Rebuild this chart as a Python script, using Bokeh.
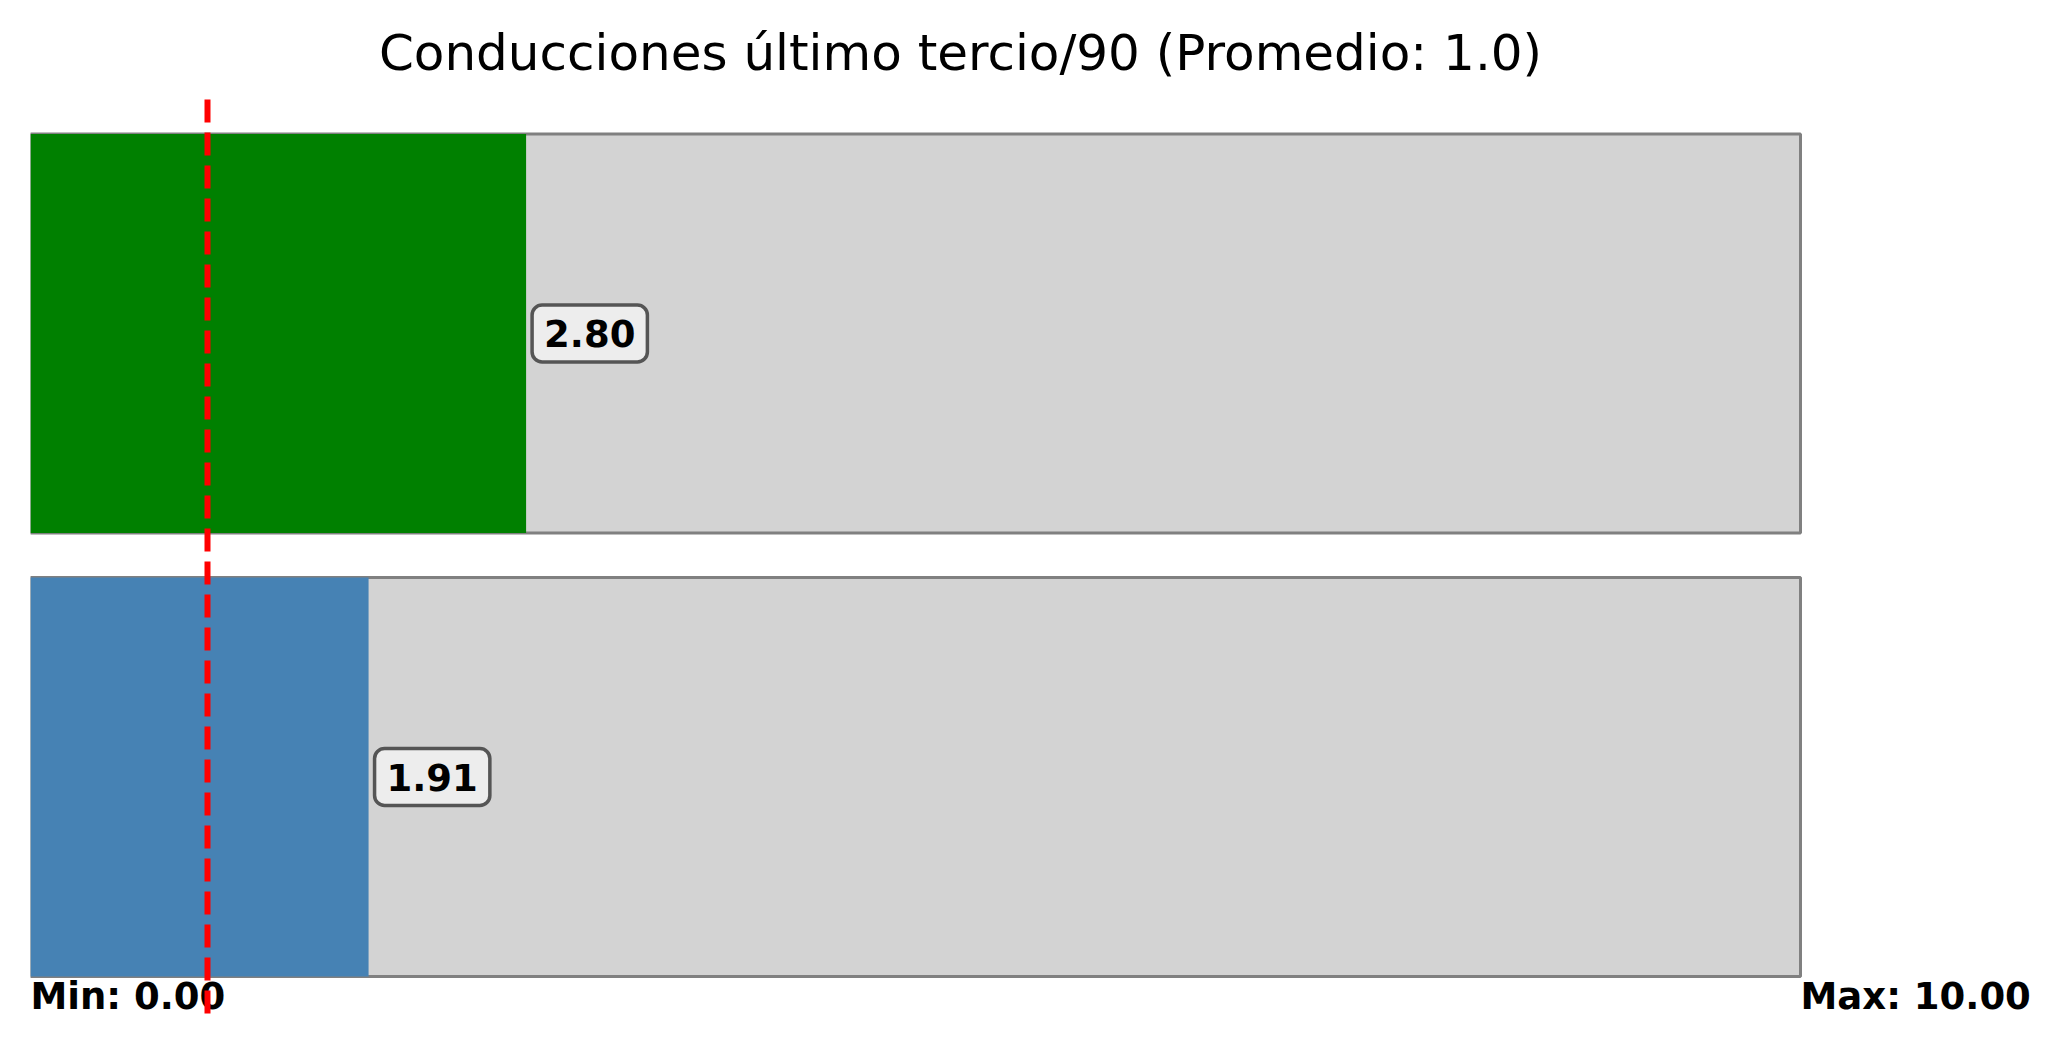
from bokeh.plotting import figure
from bokeh.models import Range1d
from bokeh.core.properties import value
from bokeh.embed import file_html
from bokeh.resources import INLINE

# ---- data ----
title_text = "Conducciones último tercio/90 (Promedio: 1.0)"
bar_values = [2.80, 1.91]
bar_labels = ["2.80", "1.91"]
bar_slots = [1, 0]
range_min = 0.0
range_max = 10.0
average = 1.0
min_label = "Min: 0.00"
max_label = "Max: 10.00"

# ---- styles ----
bar_colors = ["#008000", "#4682b4"]
FONT = value("DejaVu Sans")

W, H = 2065, 1047
LEFT_PAD = 30
PX_PER_X = 177.0
PX_PER_Y = 443.5
Y0_PX = 776.5  # pixel row of slot 0 centre

x_end = (W - LEFT_PAD) / PX_PER_X
y_top = Y0_PX / PX_PER_Y
y_bot = -(H - Y0_PX) / PX_PER_Y

p = figure(width=W, height=H, output_backend="svg", toolbar_location=None,
           x_range=Range1d(range_min, x_end), y_range=Range1d(y_bot, y_top),
           x_axis_type=None, y_axis_type=None,
           min_border_left=LEFT_PAD, min_border_right=0,
           min_border_top=0, min_border_bottom=0)
p.grid.visible = False
p.outline_line_color = None
p.background_fill_color = "white"
p.border_fill_color = "white"

# background (full range) bars
p.hbar(y=bar_slots, left=range_min, right=range_max, height=0.9,
       fill_color="#d3d3d3", line_color="#808080", line_width=3)
# value bars
p.hbar(y=bar_slots, left=range_min, right=bar_values, height=0.9,
       fill_color=bar_colors, line_color=None)

# value labels with rounded boxes
p.text(x=bar_values, y=bar_slots, text=bar_labels, x_offset=6,
       text_font=FONT, text_font_style="bold", text_font_size="37px",
       text_color="black", text_align="left", text_baseline="middle",
       background_fill_color="white", background_fill_alpha=0.6,
       border_line_color="#555555", border_line_alpha=1.0, border_line_width=3.5,
       padding=dict(left=12, right=12, top=15, bottom=15), border_radius=10)

# min / max labels
label_y = -(996 - Y0_PX) / PX_PER_Y
p.text(x=[range_min, range_max], y=[label_y, label_y], text=[min_label, max_label],
       text_font=FONT, text_font_style="bold", text_font_size="37px",
       text_color="black", text_align="left", text_baseline="alphabetic")

# title
p.text(x=[(960 - LEFT_PAD) / PX_PER_X], y=[(Y0_PX - 52) / PX_PER_Y], text=[title_text],
       text_font=FONT, text_font_size="50px", text_color="black",
       text_align="center", text_baseline="alphabetic")

# average line
p.segment(x0=[average], y0=[(Y0_PX - 99) / PX_PER_Y], x1=[average], y1=[-(1017 - Y0_PX) / PX_PER_Y],
          line_color="red", line_width=6, line_dash="23 10")

open("out.html", "w").write(file_html(p, INLINE))
